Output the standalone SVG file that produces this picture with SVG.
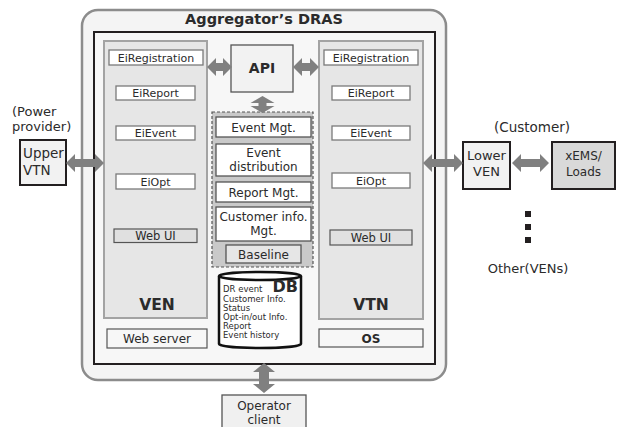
<svg xmlns="http://www.w3.org/2000/svg" width="617" height="427" viewBox="0 0 617 427">
<style>
text{font-family:"DejaVu Sans","Verdana",sans-serif;fill:#2b2b2b}
.c{text-anchor:middle}
.b{font-weight:bold}
.ei{fill:#fff;stroke:#7a7a7a;stroke-width:1.3}
.ui{fill:#e0e0e0;stroke:#555;stroke-width:1.2}
.fn{fill:#fff;stroke:#555;stroke-width:1.3}
.arr{fill:#808080}
.t11{font-size:11px}
.t12{font-size:12px}
.t13{font-size:13px}
</style>
<g id="dras">
<rect x="82" y="10" width="364" height="370" rx="16" fill="#f4f4f4" stroke="#8c8c8c" stroke-width="2.5"/>
<text x="264" y="24" class="c b" font-size="14.5">Aggregator’s DRAS</text>
<rect x="94" y="32" width="341" height="332" fill="#f7f7f7" stroke="#231f20" stroke-width="2"/>
</g>
<g id="ven">
<rect x="104" y="41" width="103" height="277" fill="#e6e6e6" stroke="#a3a3a3" stroke-width="2"/>
<rect class="ei" x="109" y="50" width="94" height="15"/><text x="156" y="61.5" class="c t11">EiRegistration</text>
<rect class="ei" x="116" y="86" width="79" height="14"/><text x="155.5" y="97" class="c t11">EiReport</text>
<rect class="ei" x="116" y="126" width="79" height="14"/><text x="155.5" y="137" class="c t11">EiEvent</text>
<rect class="ei" x="116" y="174" width="79" height="15"/><text x="155.5" y="185.5" class="c t11">EiOpt</text>
<rect class="ui" x="114" y="229" width="83" height="13.5"/><text x="155.5" y="240" class="c" font-size="11.5">Web UI</text>
<text x="157" y="310" class="c b" font-size="15.5">VEN</text>
</g>
<g id="vtn">
<rect x="319" y="41" width="104" height="278" fill="#e6e6e6" stroke="#a3a3a3" stroke-width="2"/>
<rect class="ei" x="324" y="50" width="94" height="15"/><text x="371" y="61.5" class="c t11">EiRegistration</text>
<rect class="ei" x="332" y="86" width="78" height="14"/><text x="371" y="97" class="c t11">EiReport</text>
<rect class="ei" x="332" y="126" width="78" height="14"/><text x="371" y="137" class="c t11">EiEvent</text>
<rect class="ei" x="332" y="173" width="78" height="15"/><text x="371" y="184.5" class="c t11">EiOpt</text>
<rect class="ui" x="330" y="230" width="82" height="15"/><text x="371" y="241.5" class="c" font-size="11.5">Web UI</text>
<text x="371" y="310" class="c b" font-size="15.5">VTN</text>
</g>
<g id="webserver">
<rect x="107" y="329" width="100" height="19" fill="#f7f7f7" stroke="#555" stroke-width="1.2"/>
<text x="157" y="343" class="c t12">Web server</text>
</g>
<g id="os">
<rect x="319" y="329" width="104" height="18" fill="#f7f7f7" stroke="#555" stroke-width="1.2"/>
<text x="371" y="343" class="c b t12">OS</text>
</g>
<g id="api">
<rect x="231" y="45" width="62" height="47" fill="#f2f2f2" stroke="#555" stroke-width="1.3"/>
<text x="262" y="73" class="c b" font-size="14">API</text>
</g>
<g id="functions">
<rect x="212" y="112" width="101" height="155" fill="#c9c9c9" stroke="#555" stroke-width="1.2" stroke-dasharray="3,2"/>
<rect class="fn" x="216" y="117" width="95" height="20"/><text x="263.5" y="132" class="c t12">Event Mgt.</text>
<rect class="fn" x="216" y="144" width="95" height="32"/><text x="263.5" y="157" class="c t12">Event</text><text x="263.5" y="171" class="c t12">distribution</text>
<rect class="fn" x="216" y="182" width="95" height="20"/><text x="263.5" y="197" class="c t12">Report Mgt.</text>
<rect class="fn" x="216" y="207" width="95" height="34"/><text x="263.5" y="220.5" class="c t12">Customer info.</text><text x="263.5" y="235" class="c t12">Mgt.</text>
<rect x="226" y="245" width="75" height="18" fill="#e6e6e6" stroke="#555" stroke-width="1.3"/><text x="263.5" y="259" class="c t12">Baseline</text>
</g>
<g id="db">
<path d="M219,276 A41,4 0 0 1 301,276 V344 A41,4 0 0 1 219,344 Z" fill="#fff" stroke="#111" stroke-width="2.5"/>
<path d="M219,276 A41,4 0 0 0 301,276" fill="none" stroke="#111" stroke-width="2.5"/>
<text x="298" y="291.5" text-anchor="end" class="b" font-size="16">DB</text>
<g font-size="8.5">
<text x="223" y="292">DR event</text>
<text x="223" y="301.5">Customer Info.</text>
<text x="223" y="310.5">Status</text>
<text x="223" y="319.5">Opt-in/out Info.</text>
<text x="223" y="328.5">Report</text>
<text x="223" y="337.5">Event history</text>
</g>
</g>
<g id="upper-vtn">
<text x="12" y="116" class="t13">(Power</text>
<text x="12" y="131" class="t13">provider)</text>
<rect x="20" y="140" width="46" height="45" fill="#f2f2f2" stroke="#231f20" stroke-width="2"/>
<text x="23" y="158" font-size="13.5">Upper</text>
<text x="23" y="175" font-size="13.5">VTN</text>
</g>
<g id="lower-ven">
<text x="532" y="132" class="c" font-size="13.5">(Customer)</text>
<rect x="463" y="142" width="47" height="47" fill="#f2f2f2" stroke="#231f20" stroke-width="2"/>
<text x="486.5" y="160" class="c t13">Lower</text>
<text x="486.5" y="176" class="c t13">VEN</text>
</g>
<g id="xems">
<rect x="552" y="142" width="63" height="47" fill="#d9d9d9" stroke="#231f20" stroke-width="2"/>
<text x="583.5" y="160" class="c t12">xEMS/</text>
<text x="583.5" y="176" class="c t12">Loads</text>
</g>
<g id="other-vens">
<rect x="525" y="211" width="6" height="6" fill="#231f20"/>
<rect x="525" y="224" width="6" height="6" fill="#231f20"/>
<rect x="525" y="237" width="6" height="6" fill="#231f20"/>
<text x="528" y="273" class="c t13">Other(VENs)</text>
</g>
<g id="operator-client">
<rect x="222" y="395" width="84" height="40" fill="#f0f0f0" stroke="#555" stroke-width="1.3"/>
<text x="264" y="410" class="c t12">Operator</text>
<text x="264" y="424" class="c t12">client</text>
</g>
<g id="connectors">
<polygon class="arr" points="66,163 75,154 75,159 95,159 95,154 104,163 95,172 95,167 75,167 75,172"/>
<polygon class="arr" points="207,67 216,58 216,63 223,63 223,58 232,67 223,76 223,71 216,71 216,76"/>
<polygon class="arr" points="293,67 302,58 302,63 310,63 310,58 319,67 310,76 310,71 302,71 302,76"/>
<polygon class="arr" points="262.5,96 274.5,103 266.5,103 266.5,106 274.5,106 262.5,113 250.5,106 258.5,106 258.5,103 250.5,103"/>
<polygon class="arr" points="423,163 432,154 432,159 454,159 454,154 463,163 454,172 454,167 432,167 432,172"/>
<polygon class="arr" points="512,163 521,154 521,159 540,159 540,154 549,163 540,172 540,167 521,167 521,172"/>
<polygon class="arr" points="264,363 275,372 269,372 269,384 275,384 264,393 253,384 259,384 259,372 253,372"/>
</g>
</svg>
